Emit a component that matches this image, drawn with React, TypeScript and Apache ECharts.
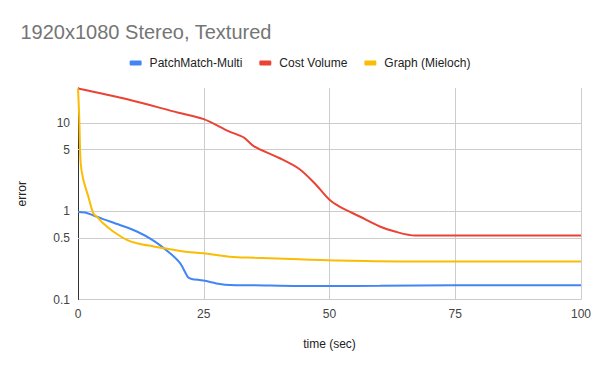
import React, { useEffect, useRef } from "react";
import * as echarts from "echarts";

const seriesNames = ["PatchMatch-Multi", "Cost Volume", "Graph (Mieloch)"];
const colors = ["#4285F4", "#EA4335", "#FBBC04"];

const patchTimes = [0, 1.4, 3, 5, 8.3, 11.7, 15, 18.3, 20.3, 21.9, 22.6, 24.9, 28.2, 30.2, 35, 44, 50, 60, 75, 100];
const patchValues = [0.98, 0.97, 0.9, 0.815, 0.7, 0.59, 0.466, 0.335, 0.258, 0.178, 0.171, 0.164, 0.15, 0.146, 0.145, 0.142, 0.142, 0.143, 0.145, 0.145];

const costTimes = [0, 10, 20, 25, 30, 33, 35, 40, 44, 47, 50, 52, 56, 60, 63, 67, 80, 100];
const costValues = [24.7, 18.5, 13.1, 11.1, 8.07, 6.84, 5.45, 4.02, 3.02, 2.09, 1.35, 1.13, 0.873, 0.672, 0.589, 0.531, 0.531, 0.531];

const graphTimes = [0, 0.15, 0.26, 0.53, 1.06, 2.05, 3.04, 4, 5, 7, 9.7, 11.7, 15, 18.3, 21, 24.9, 30.2, 35, 44, 52, 64, 80, 100];
const graphValues = [24.7, 16, 11, 3.53, 2.28, 1.47, 0.95, 0.84, 0.73, 0.59, 0.475, 0.435, 0.4, 0.372, 0.35, 0.335, 0.306, 0.298, 0.286, 0.276, 0.27, 0.27, 0.27];

const xTicks = [0, 25, 50, 75, 100];
const extraYGrid = [0.5, 5];

const FONT = "'Liberation Sans', Arial, sans-serif";

function zip(t: number[], v: number[]) {
  return t.map((x, i) => [x, v[i]]);
}

export default function App() {
  const ref = useRef<HTMLDivElement>(null);
  useEffect(() => {
    document.body.style.margin = "0";
    if (!ref.current) return;
    const chart = echarts.init(ref.current, null, { renderer: "svg" });
    const datas = [zip(patchTimes, patchValues), zip(costTimes, costValues), zip(graphTimes, graphValues)];
    chart.setOption({
      animation: false,
      textStyle: { fontFamily: FONT },
      title: {
        text: "1920x1080 Stereo, Textured",
        left: 15.5,
        top: 16.5,
        textStyle: { fontSize: 20, fontWeight: "normal", color: "#757575", fontFamily: FONT },
      },
      legend: {
        left: "center",
        top: 52,
        itemWidth: 12,
        itemHeight: 5,
        itemGap: 17,
        icon: "roundRect",
        textStyle: { fontSize: 12, color: "#222", fontFamily: FONT, padding: [0, 0, 0, 3] },
        data: seriesNames,
      },
      grid: { left: 78, right: 19, top: 88, bottom: 71.5, containLabel: false },
      xAxis: {
        type: "value",
        min: xTicks[0],
        max: xTicks[xTicks.length - 1],
        interval: 25,
        name: "time (sec)",
        nameLocation: "middle",
        nameGap: 38,
        nameTextStyle: { fontSize: 12, color: "#222", fontFamily: FONT },
        axisLine: { show: false },
        axisTick: { show: false },
        axisLabel: { fontSize: 12, color: "#444", margin: 8, fontFamily: FONT },
        splitLine: { show: true, lineStyle: { color: "#cccccc", width: 1 } },
      },
      yAxis: {
        type: "log",
        logBase: 10,
        min: 0.1,
        max: 25,
        name: "error",
        nameLocation: "middle",
        nameGap: 50,
        nameRotate: 90,
        nameTextStyle: { fontSize: 12, color: "#222", fontFamily: FONT },
        axisLine: { show: true, lineStyle: { color: "#333", width: 1 } },
        axisTick: { show: false },
        axisLabel: { fontSize: 12, color: "#444", margin: 8, fontFamily: FONT, showMaxLabel: false },
        splitLine: { show: true, showMaxLine: false, lineStyle: { color: "#cccccc", width: 1 } },
      },
      series: seriesNames.map((name, i) => ({
        name,
        type: "line",
        data: datas[i],
        showSymbol: false,
        symbol: "none",
        smooth: 0.3,
        z: 3 + (i === 1 ? 0 : i),
        lineStyle: { color: colors[i], width: 2 },
        itemStyle: { color: colors[i] },
        markLine:
          i === 0
            ? {
                silent: true,
                symbol: "none",
                z: 1,
                lineStyle: { color: "#cccccc", width: 1, type: "solid" },
                label: { position: "start", color: "#444", fontSize: 12, distance: 8, fontFamily: FONT, formatter: (p: any) => String(p.value) },
                data: extraYGrid.map((v) => ({ yAxis: v })),
              }
            : undefined,
      })),
    });
    return () => chart.dispose();
  }, []);
  return <div ref={ref} style={{ width: 600, height: 371 }} />;
}
